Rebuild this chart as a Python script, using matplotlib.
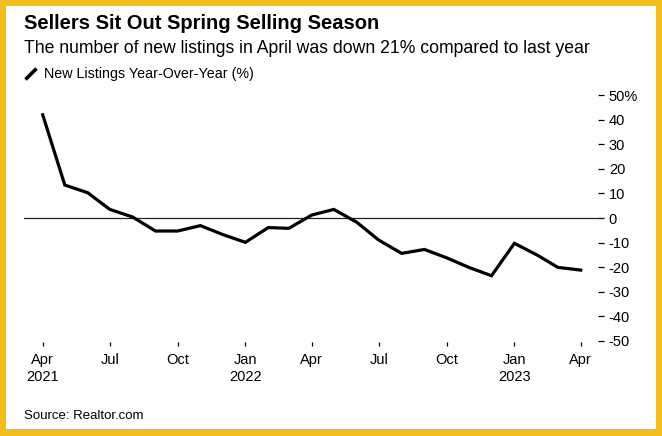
import matplotlib
matplotlib.use("Agg")
import matplotlib.pyplot as plt
from matplotlib.patches import Rectangle
from matplotlib.lines import Line2D
import pandas as pd

months = ["2021-04", "2021-05", "2021-06", "2021-07", "2021-08", "2021-09", "2021-10",
          "2021-11", "2021-12", "2022-01", "2022-02", "2022-03", "2022-04", "2022-05",
          "2022-06", "2022-07", "2022-08", "2022-09", "2022-10", "2022-11", "2022-12",
          "2023-01", "2023-02", "2023-03", "2023-04"]
yoy = [42.0, 13.4, 10.3, 3.5, 0.4, -5.3, -5.3, -3.1, -6.7, -9.9, -3.9, -4.2, 1.2, 3.5,
       -1.7, -9.0, -14.4, -12.8, -16.2, -20.2, -23.5, -10.3, -15.1, -20.1, -21.2]
x_tick_months = ["2021-04", "2021-07", "2021-10", "2022-01", "2022-04", "2022-07",
                 "2022-10", "2023-01", "2023-04"]
x_tick_labels = ["Apr\n2021", "Jul", "Oct", "Jan\n2022", "Apr", "Jul", "Oct", "Jan\n2023", "Apr"]
y_ticks = [50, 40, 30, 20, 10, 0, -10, -20, -30, -40, -50]
y_tick_labels = ["50%", "40", "30", "20", "10", "0", "-10", "-20", "-30", "-40", "-50"]

title = "Sellers Sit Out Spring Selling Season"
subtitle = "The number of new listings in April was down 21% compared to last year"
legend_label = "New Listings Year-Over-Year (%)"
source = "Source: Realtor.com"

plt.rcParams['font.family'] = ['Liberation Sans', 'DejaVu Sans']

W, H = 662, 436
fig = plt.figure(figsize=(W / 100, H / 100), dpi=100)
fig.patch.set_facecolor('#F3BD1E')
fig.patches.append(Rectangle((6 / W, 7 / H), (656 - 6) / W, (430 - 7) / H,
                             transform=fig.transFigure, facecolor='white',
                             edgecolor='none', zorder=-5))

ax = fig.add_axes([24 / W, (H - 342) / H, 580 / W, 252 / H])
ax.set_zorder(2)
ax.set_facecolor('none')
dates = pd.to_datetime(months)
ax.plot(dates, yoy, color='black', lw=2.3, solid_joinstyle='miter', zorder=3)
ax.axhline(0, color='#222222', lw=0.9, zorder=2)

ax.set_ylim(-50.47, 52.1)
x0 = pd.Timestamp("2021-04-01") - pd.Timedelta(days=25.4)
x1 = pd.Timestamp("2023-04-01") + pd.Timedelta(days=31.6)
ax.set_xlim(x0, x1)

for s in ax.spines.values():
    s.set_visible(False)

ax.yaxis.tick_right()
ax.set_yticks(y_ticks)
ax.set_yticklabels(y_tick_labels)
ax.tick_params(axis='y', direction='in', length=4.5, width=0.9, pad=3.5,
               labelsize=10.5, colors='black')
ax.set_xticks(pd.to_datetime(x_tick_months))
ax.set_xticklabels(x_tick_labels, linespacing=1.3)
ax.tick_params(axis='x', direction='out', length=3, width=0.9, pad=5,
               labelsize=10.5, colors='black')

fig.text(24 / W, 1 - 29.3 / H, title, fontsize=14.5, fontweight='bold',
         va='baseline', ha='left', color='black')
fig.text(24 / W, 1 - 53.3 / H, subtitle, fontsize=12.7,
         va='baseline', ha='left', color='black')
fig.lines.append(Line2D([25.5 / W, 36.5 / W], [1 - 79.5 / H, 1 - 68.5 / H],
                        transform=fig.transFigure, color='black', lw=2.6,
                        solid_capstyle='butt'))
fig.text(44 / W, 1 - 78.3 / H, legend_label, fontsize=10.3,
         va='baseline', ha='left', color='black')
fig.text(23.5 / W, 1 - 419.3 / H, source, fontsize=9.5,
         va='baseline', ha='left', color='black')

fig.savefig("out.png", dpi=100)
